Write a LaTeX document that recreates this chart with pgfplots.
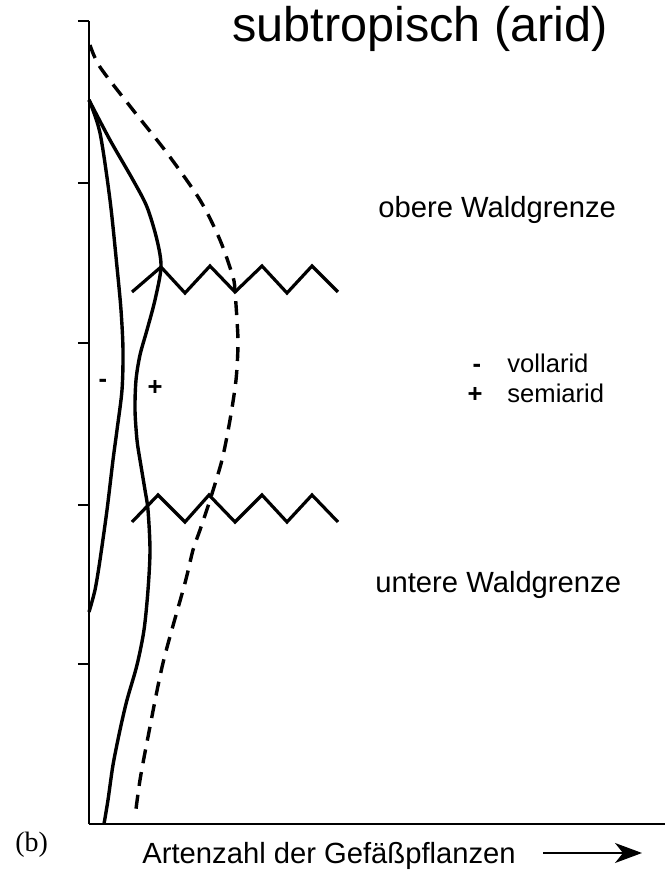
\documentclass[border=0pt]{standalone}
\usepackage{fontspec}
\setmainfont{Liberation Sans}
\newfontfamily\serif{Liberation Serif}
\usepackage{pgfplots}
\pgfplotsset{compat=1.18}
\usetikzlibrary{arrows.meta}

\begin{document}
\begin{tikzpicture}
\begin{axis}[
    scale only axis,
    width=288pt, height=401.5pt,
    xmin=0, xmax=576, ymin=0, ymax=803,
    axis lines=left,
    axis line style={-, line width=1pt},
    xtick=\empty,
    ytick={160,319,481,641,803},
    yticklabels={},
    tick align=outside,
    major tick length=5.5pt,
    tick style={line width=1pt, black},
    clip=false,
]
% total species (dashed)
\addplot[black, line width=1.7pt, dash pattern=on 7pt off 4.5pt, smooth] coordinates {
    (1,779) (11,757) (44,714) (78,671) (111,624) (131,584) (144,547)
    (146,532) (148,504) (149,479) (147,444) (141,404) (133,364)
    (121,324) (111,294) (104,274) (96,241) (74,161) (59,87) (51,44) (46,7)
};
% vollarid (-)
\addplot[black, line width=1.7pt, smooth] coordinates {
    (0,724) (11,691) (21,624) (28,557) (32,514) (34,474) (33,434)
    (28,394) (24,364) (18,314) (11,264) (6,234) (0,212)
};
% semiarid (+)
\addplot[black, line width=1.7pt, smooth] coordinates {
    (0,724) (21,684) (44,644) (58,617) (68,584) (72,557) (66,524)
    (58,494) (51,469) (47,444) (46,414) (48,384) (51,364) (56,334)
    (59,314) (61,274) (59,234) (55,194) (48,159) (38,124) (31,94)
    (24,59) (19,24) (15,0)
};
% treelines
\addplot[black, line width=1.6pt] coordinates {
    (43,532) (72,557) (96,531) (121,558) (146,532) (173,558) (198,531) (223,558) (249,532)
};
\addplot[black, line width=1.6pt] coordinates {
    (43,302) (69,329) (96,302) (120,329) (146,302) (173,329) (198,302) (223,329) (249,302)
};

\node[anchor=base west, inner sep=0, font=\fontsize{24.3pt}{28pt}\selectfont] at (axis cs:143,782) {subtropisch (arid)};
\node[anchor=base west, inner sep=0, font=\fontsize{14.6pt}{17pt}\selectfont] at (axis cs:289,606) {obere Waldgrenze};
\node[anchor=base west, inner sep=0, font=\fontsize{14.6pt}{17pt}\selectfont] at (axis cs:286,232) {untere Waldgrenze};
\node[anchor=base west, inner sep=0, font=\fontsize{12.8pt}{15pt}\selectfont] at (axis cs:418,451) {vollarid};
\node[anchor=base west, inner sep=0, font=\fontsize{12.8pt}{15pt}\selectfont] at (axis cs:418,421) {semiarid};
\node[anchor=base, inner sep=0, font=\fontsize{12.8pt}{15pt}\selectfont\bfseries] at (axis cs:388,451) {-};
\node[anchor=base, inner sep=0, font=\fontsize{12.8pt}{15pt}\selectfont\bfseries] at (axis cs:386,421) {+};
\node[inner sep=0, font=\fontsize{12.8pt}{15pt}\selectfont\bfseries] at (axis cs:14,441) {-};
\node[inner sep=0, font=\fontsize{12.8pt}{15pt}\selectfont\bfseries] at (axis cs:66,436) {+};
\node[anchor=base west, inner sep=0, font=\fontsize{14pt}{17pt}\selectfont\serif] at (axis cs:-74,-27) {(b)};
\node[anchor=base west, inner sep=0, font=\fontsize{14.6pt}{17pt}\selectfont] at (axis cs:53,-39) {Artenzahl der Gefäßpflanzen};
\draw[line width=0.9pt, -{Stealth[length=13.5pt, width=10pt, inset=4pt]}] (axis cs:454,-29) -- (axis cs:553,-29);

\coordinate (bl) at (axis cs:-89,-50);
\coordinate (tr) at (axis cs:583,824);
\end{axis}
\pgfresetboundingbox
\path[use as bounding box] (bl) rectangle (tr);
\end{tikzpicture}
\end{document}
